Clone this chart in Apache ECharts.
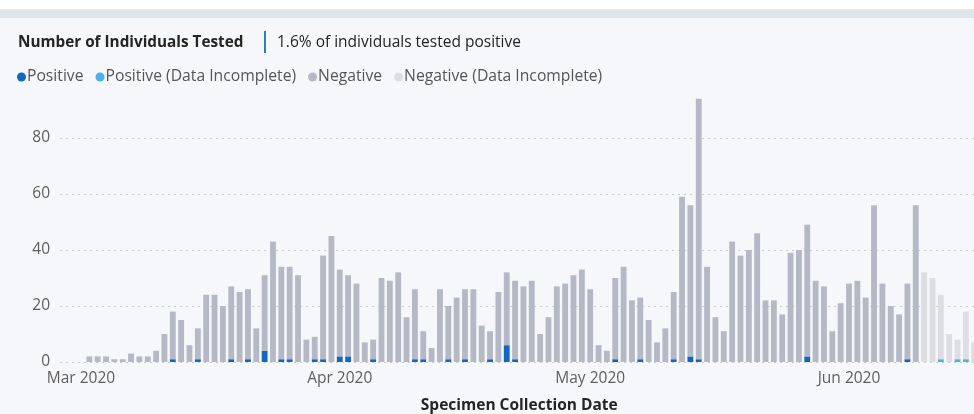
<!DOCTYPE html>
<html>
<head>
<meta charset="utf-8">
<script src="https://cdn.jsdelivr.net/npm/echarts@6/dist/echarts.min.js"></script>
<style>
  html, body { margin: 0; padding: 0; overflow: hidden; background: #f5f7fa; }
  #chart { width: 990px; height: 414px; }
</style>
</head>
<body>
<div id="chart"></div>
<script>
// ---- Data ----
// Complete data: 2020-03-01 .. 2020-06-09 (101 days)
const completeStart = '2020-03-01';
const positive = [
  0,0,0,0,0,0,0,0,0,0,
  0,1,0,0,1,0,0,0,1,0,
  1,0,4,0,1,1,0,0,1,1,
  0,2,2,0,0,1,0,0,0,0,
  1,1,0,0,1,0,1,0,0,1,
  0,6,1,0,0,0,0,0,0,0,
  0,0,0,0,1,0,0,1,0,0,
  0,1,0,2,1,0,0,0,0,0,
  0,0,0,0,0,0,0,2,0,0,
  0,0,0,0,0,0,0,0,0,1,
  0
];
const negative = [
  0,2,2,2,1,1,3,2,2,4,
  10,17,15,6,11,24,24,20,26,25,
  25,12,27,43,33,33,31,8,8,37,
  45,31,29,28,7,7,30,29,32,16,
  25,10,5,26,19,23,25,26,13,10,
  25,26,28,27,29,10,16,27,28,31,
  33,26,6,4,29,34,22,22,15,7,
  12,24,59,54,93,34,16,11,43,38,
  40,46,22,22,17,39,40,47,29,27,
  11,21,28,29,23,56,28,20,17,27,
  56
];
// Data incomplete: 2020-06-10 .. 2020-06-16
const positiveIncomplete = [0,0,1,0,1,1,0];
const negativeIncomplete = [32,30,23,10,7,17,7];

const yTicks = [0, 20, 40, 60, 80];
const seriesNames = ['Positive', 'Positive (Data Incomplete)', 'Negative', 'Negative (Data Incomplete)'];
const colors = ['#1267bf', '#4cb0ee', '#b4b9c5', '#dcdee2'];

// ---- Categories (days) ----
const axisStart = new Date(Date.UTC(2020, 1, 28)); // two leading empty days
const nDays = 110;
const months = ['Jan','Feb','Mar','Apr','May','Jun','Jul','Aug','Sep','Oct','Nov','Dec'];
const categories = [];
for (let i = 0; i < nDays; i++) {
  const d = new Date(axisStart.getTime() + i * 86400000);
  categories.push(d.toISOString().slice(0, 10));
}
const offComplete = categories.indexOf(completeStart);
const offIncomplete = offComplete + positive.length;

function place(arr, offset) {
  const out = new Array(nDays).fill(null);
  arr.forEach((v, i) => { out[offset + i] = v > 0 ? v : null; });
  return out;
}

const chart = echarts.init(document.getElementById('chart'), null, { renderer: 'canvas' });
const font = '"Segoe UI", "Open Sans", sans-serif';

chart.setOption({
  backgroundColor: '#f5f7fa',
  animation: false,
  graphic: [
    { type: 'rect', left: 0, top: 0, shape: { width: 990, height: 9 }, style: { fill: '#ffffff' }, silent: true },
    { type: 'rect', left: 0, top: 9, shape: { width: 990, height: 9 }, style: { fill: '#dfe5ed' }, silent: true },
    { type: 'line', shape: { x1: 265, y1: 31, x2: 265, y2: 53 }, style: { stroke: '#2f7cc0', lineWidth: 2 }, silent: true }
  ],
  title: [
    { text: 'Number of Individuals Tested', left: 13, top: 30,
      textStyle: { fontFamily: font, fontSize: 15.3, fontWeight: 'bold', color: '#252423' } },
    { text: '1.6% of individuals tested positive', left: 272, top: 30,
      textStyle: { fontFamily: font, fontSize: 15.5, fontWeight: 'normal', color: '#252423' } }
  ],
  legend: {
    left: 12, top: 64,
    icon: 'circle', itemWidth: 9, itemHeight: 9, itemGap: 12,
    textStyle: { fontFamily: font, fontSize: 15.7, color: '#555', padding: [0, 0, 0, -4] },
    data: seriesNames
  },
  grid: { left: 60.1, right: 11.6, top: 96, bottom: 52, containLabel: false, outerBoundsMode: 'none' },
  xAxis: {
    type: 'category',
    data: categories,
    boundaryGap: true,
    axisLine: { show: false },
    axisTick: { show: false },
    axisLabel: {
      interval: (idx, val) => val.slice(8) === '01',
      formatter: (val) => months[+val.slice(5, 7) - 1] + ' ' + val.slice(0, 4),
      fontFamily: font, fontSize: 15.5, color: '#605e5c', margin: 9
    },
    name: 'Specimen Collection Date',
    nameLocation: 'middle',
    nameGap: 36,
    nameTextStyle: { fontFamily: font, fontSize: 15.5, fontWeight: 'bold', color: '#252423' }
  },
  yAxis: {
    type: 'value',
    min: 0, max: 95, interval: 20,
    axisLine: { show: false },
    axisTick: { show: false },
    axisLabel: {
      showMaxLabel: false,
      formatter: (v) => yTicks.includes(v) ? String(v) : '',
      fontFamily: font, fontSize: 15.5, color: '#605e5c', margin: 10
    },
    splitLine: { show: true, showMaxLine: false, lineStyle: { type: [2, 4], color: '#c8c8c8', width: 1 } }
  },
  series: [
    { name: seriesNames[0], type: 'bar', stack: 'tests', data: place(positive, offComplete),
      itemStyle: { color: colors[0] }, barCategoryGap: '30%' },
    { name: seriesNames[1], type: 'bar', stack: 'tests', data: place(positiveIncomplete, offIncomplete),
      itemStyle: { color: colors[1] } },
    { name: seriesNames[2], type: 'bar', stack: 'tests', data: place(negative, offComplete),
      itemStyle: { color: colors[2] } },
    { name: seriesNames[3], type: 'bar', stack: 'tests', data: place(negativeIncomplete, offIncomplete),
      itemStyle: { color: colors[3] } }
  ]
});
</script>
</body>
</html>
